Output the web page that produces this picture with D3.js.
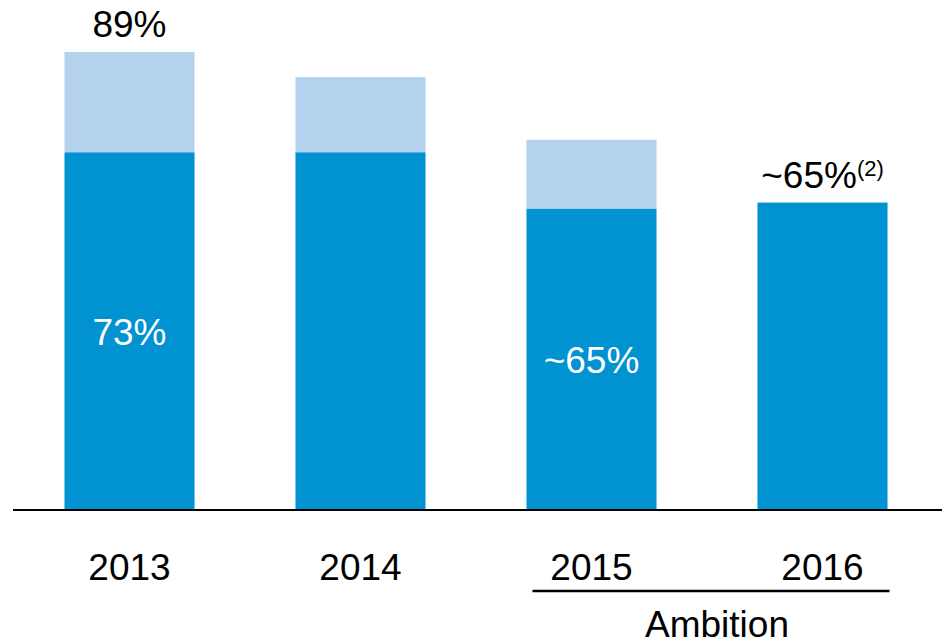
<!DOCTYPE html>
<html>
<head>
<meta charset="utf-8">
<script src="https://cdn.jsdelivr.net/npm/d3@7"></script>
<style>
  body { margin: 0; background: #fff; }
  svg text { font-family: "Liberation Sans", Arial, sans-serif; }
</style>
</head>
<body>
<svg id="chart" width="942" height="640"></svg>
<script>
// data
var years = ["2013", "2014", "2015", "2016"];
var baseShare = [73, 73, 64, 65];      // dark part
var totalShare = [89, 85, 75, null];   // light part top (null = no light part)
var innerLabels = ["73%", "", "~65%", ""];
var topLabels = ["89%", "", "", "~65%"];
var topNotes = ["", "", "", "(2)"];
var ambitionYears = ["2015", "2016"];

var dark = "#0092D1", light = "#B4D2EE";

var svg = d3.select("#chart");

var x = d3.scaleBand()
  .domain(years)
  .range([14, 938])
  .paddingInner(0.437)
  .paddingOuter(0.2185);

// bars are drawn on a cut-off value axis, as in the original slide
var y = d3.scaleLinear()
  .domain([16, 89])
  .range([510, 52]);

var rows = years.map(function(yr, i) {
  return { year: yr, base: baseShare[i], total: totalShare[i],
           inner: innerLabels[i], top: topLabels[i], note: topNotes[i] };
});

// light part
svg.append("g").selectAll("rect")
  .data(rows.filter(function(d) { return d.total != null; }))
  .enter().append("rect")
  .attr("x", function(d) { return x(d.year); })
  .attr("y", function(d) { return y(d.total); })
  .attr("width", x.bandwidth())
  .attr("height", function(d) { return y(d.base) - y(d.total); })
  .attr("fill", light);

// dark part
svg.append("g").selectAll("rect")
  .data(rows)
  .enter().append("rect")
  .attr("x", function(d) { return x(d.year); })
  .attr("y", function(d) { return y(d.base); })
  .attr("width", x.bandwidth())
  .attr("height", function(d) { return y(16) - y(d.base); })
  .attr("fill", dark);

// baseline
svg.append("line")
  .attr("x1", 13).attr("x2", 942)
  .attr("y1", y(16)).attr("y2", y(16))
  .attr("stroke", "#000").attr("stroke-width", 2);

// labels inside bars
svg.append("g").selectAll("text")
  .data(rows.filter(function(d) { return d.inner; }))
  .enter().append("text")
  .attr("x", function(d) { return x(d.year) + x.bandwidth() / 2; })
  .attr("y", function(d) { return d.year == "2013" ? 345 : 373; })
  .attr("text-anchor", "middle")
  .attr("font-size", 37)
  .attr("fill", "#fff")
  .text(function(d) { return d.inner; });

// labels above bars
var tops = svg.append("g").selectAll("text")
  .data(rows.filter(function(d) { return d.top; }))
  .enter().append("text")
  .attr("x", function(d) { return x(d.year) + x.bandwidth() / 2; })
  .attr("y", function(d) { return y(d.total != null ? d.total : d.base) - 15; })
  .attr("text-anchor", "middle")
  .attr("font-size", 37)
  .attr("fill", "#000");
tops.append("tspan").text(function(d) { return d.top; });
tops.append("tspan")
  .attr("font-size", 22)
  .attr("dy", -12)
  .text(function(d) { return d.note; });

// year labels
svg.append("g").selectAll("text")
  .data(years)
  .enter().append("text")
  .attr("x", function(d) { return x(d) + x.bandwidth() / 2; })
  .attr("y", 580)
  .attr("text-anchor", "middle")
  .attr("font-size", 37)
  .attr("fill", "#000")
  .text(function(d) { return d; });

// ambition bracket
var ax1 = x(ambitionYears[0]) + 6;
var ax2 = x(ambitionYears[1]) + x.bandwidth() + 2;
svg.append("line")
  .attr("x1", ax1).attr("x2", ax2)
  .attr("y1", 591).attr("y2", 591)
  .attr("stroke", "#000").attr("stroke-width", 2.5);
svg.append("text")
  .attr("x", (ax1 + ax2) / 2 + 6)
  .attr("y", 637)
  .attr("text-anchor", "middle")
  .attr("font-size", 37)
  .attr("fill", "#000")
  .text("Ambition");
</script>
</body>
</html>
